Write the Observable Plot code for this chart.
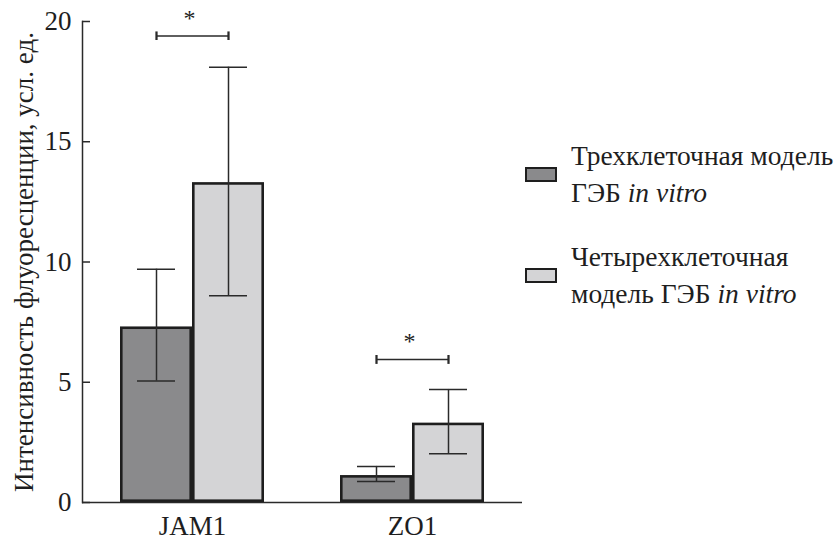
<!DOCTYPE html>
<html>
<head>
<meta charset="utf-8">
<script src="https://cdn.jsdelivr.net/npm/d3@7"></script>
<script src="https://cdn.jsdelivr.net/npm/@observablehq/plot@0.6"></script>
<style>
  html, body { margin: 0; padding: 0; background: #fff; }
  #wrap { position: relative; width: 837px; height: 540px; font-family: "Liberation Serif", "DejaVu Serif", Times, serif; color: #1e1e1e; }
  #legend { position: absolute; left: 525px; top: 136px; }
  .item { display: flex; align-items: center; height: 76px; margin-bottom: 25px; }
  .sw { width: 28px; height: 11px; border: 2.5px solid #1e1e1e; flex: none; }
  .lbl { margin-left: 14px; font-size: 27.5px; line-height: 37px; white-space: nowrap; }
</style>
</head>
<body>
<div id="wrap"></div>
<script>
// ---- data ----
const groups = ["JAM1", "ZO1"];
const seriesNames = ["Трехклеточная модель ГЭБ in vitro", "Четырехклеточная модель ГЭБ in vitro"];
const threeCellMean = [7.3, 1.12];
const threeCellLow = [5.05, 0.87];
const threeCellHigh = [9.7, 1.5];
const fourCellMean = [13.3, 3.3];
const fourCellLow = [8.6, 2.03];
const fourCellHigh = [18.1, 4.7];
const significanceY = [19.4, 5.95];
const yTicks = [0, 5, 10, 15, 20];
const yLabel = "Интенсивность флуоресценции, усл. ед.";
const colors = ["#8a8a8c", "#d4d4d6"];

// ---- table ----
const rows = groups.flatMap((g, i) => [
  {group: g, series: seriesNames[0], value: threeCellMean[i], lo: threeCellLow[i], hi: threeCellHigh[i]},
  {group: g, series: seriesNames[1], value: fourCellMean[i], lo: fourCellLow[i], hi: fourCellHigh[i]}
]);
const sig = groups.map((g, i) => ({group: g, y: significanceY[i], a: seriesNames[0], b: seriesNames[1]}));

const ink = "#1e1e1e";
const serif = "'Liberation Serif', 'DejaVu Serif', Times, serif";
const chart = Plot.plot({
  width: 837,
  height: 540,
  marginTop: 21,
  marginBottom: 38,
  marginLeft: 81,
  marginRight: 315,
  style: {fontFamily: serif, fontSize: "27px", color: ink, background: "#fff", overflow: "visible"},
  fx: {domain: groups, paddingInner: 0, paddingOuter: 0, label: null},
  x: {domain: seriesNames, paddingInner: 0, paddingOuter: 0.51, axis: null},
  y: {domain: [0, 20], axis: null},
  color: {domain: seriesNames, range: colors},
  marks: [
    Plot.barY(rows, {fx: "group", x: "series", y: "value", fill: "series", stroke: ink, strokeWidth: 2.6, inset: 1.3}),
    Plot.ruleX(rows, {fx: "group", x: "series", y1: "lo", y2: "hi", stroke: "#2a2a2a", strokeWidth: 1.5}),
    Plot.tickY(rows, {fx: "group", x: "series", y: "lo", stroke: "#2a2a2a", strokeWidth: 1.5, insetLeft: 17, insetRight: 17}),
    Plot.tickY(rows, {fx: "group", x: "series", y: "hi", stroke: "#2a2a2a", strokeWidth: 1.5, insetLeft: 17, insetRight: 17}),
    Plot.link(sig, {fx: "group", x1: "a", x2: "b", y1: "y", y2: "y", stroke: "#2a2a2a", strokeWidth: 1.5, markerStart: "tick", markerEnd: "tick"}),
    Plot.text(sig, {fx: "group", y: "y", text: () => "*", dx: -3, dy: -18, fontSize: 24, fontFamily: serif}),
    Plot.ruleY([0], {stroke: "#2a2a2a", strokeWidth: 1.5}),
    Plot.frame({anchor: "left", facetAnchor: "left", stroke: "#2a2a2a", strokeWidth: 1.5}),
    Plot.axisY({ticks: yTicks, tickSize: 0, tickPadding: 11, label: null, fontFamily: serif}),
    Plot.axisY({ticks: yTicks, tickSize: 8, dx: 8, tickFormat: () => "", label: null, stroke: "#2a2a2a", strokeWidth: 1.5}),
    Plot.axisFx({anchor: "bottom", tickSize: 0, tickPadding: 13, label: null, fontFamily: serif}),
    Plot.text([yLabel], {frameAnchor: "left", textAnchor: "middle", rotate: -90, dx: -50, lineAnchor: "bottom", facetAnchor: "left", fontSize: 27, fontFamily: serif})
  ]
});

const wrap = document.getElementById("wrap");
wrap.appendChild(chart);

const legend = document.createElement("div");
legend.id = "legend";
const legendText = [
  ["Трехклеточная модель", "ГЭБ <i>in vitro</i>"],
  ["Четырехклеточная", "модель ГЭБ <i>in vitro</i>"]
];
seriesNames.forEach((s, i) => {
  const item = document.createElement("div");
  item.className = "item";
  item.innerHTML = `<div class="sw" style="background:${colors[i]}"></div><div class="lbl">${legendText[i][0]}<br>${legendText[i][1]}</div>`;
  legend.appendChild(item);
});
wrap.appendChild(legend);
</script>
</body>
</html>
